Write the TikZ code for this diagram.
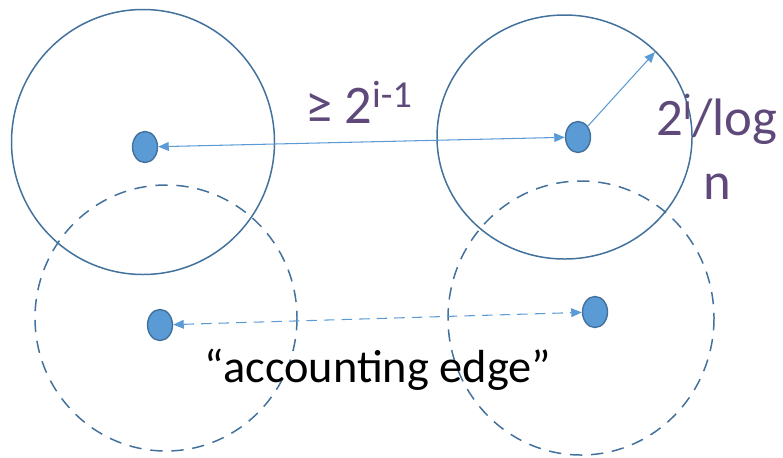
\documentclass[tikz,border=0pt]{standalone}
\usepackage{fontspec}
\setmainfont{Carlito}
\usetikzlibrary{arrows.meta,positioning,shapes.geometric}
\definecolor{ringblue}{HTML}{41719C}
\definecolor{dotblue}{HTML}{5B9BD5}
\definecolor{labelpurple}{HTML}{5F497A}
\tikzset{
  ring/.style={draw=ringblue,line width=0.85pt},
  dashring/.style={ring,dash pattern=on 7pt off 5pt},
  vertex/.style={ellipse,draw=ringblue,fill=dotblue,line width=0.8pt,
    minimum width=0.5cm,minimum height=0.62cm,inner sep=0pt},
  link/.style={draw=dotblue,line width=0.6pt,
    {Triangle[length=6pt,width=5pt]}-{Triangle[length=6pt,width=5pt]}},
}

\begin{document}
\begin{tikzpicture}[x=0.02cm,y=-0.02cm]
  \useasboundingbox (0,0) rectangle (783,457);
  % balls (solid: upper pair, dashed: lower pair)
  \draw[ring] (143,142) ellipse [x radius=131.5,y radius=132.5];
  \draw[ring] (564.5,137) ellipse [x radius=127.5,y radius=122];
  \draw[dashring] (166,318) ellipse [x radius=131,y radius=133];
  \draw[dashring] (581,318) ellipse [x radius=133,y radius=137];
  % centres
  \node[vertex] (u) at (145,147) {};
  \node[vertex] (v) at (578,137) {};
  \node[vertex] (x) at (160,325) {};
  \node[vertex] (y) at (595,312) {};
  \coordinate (rim) at (655,52);
  % distance and radius
  \draw[link] (u) -- (v);
  \draw[draw=dotblue,line width=0.6pt,-{Triangle[length=6pt,width=5pt]}] (v) -- (rim);
  \node[text=labelpurple,font=\fontsize{31}{37}\selectfont,anchor=base] (dist)
    at (359,123) {≥ 2\textsuperscript{i-1}};
  \node[text=labelpurple,font=\fontsize{30}{36.4}\selectfont,align=center,anchor=north] (rad)
    at (717,88) {2\textsuperscript{i}/log\\n};
  % accounting edge
  \draw[link,dash pattern=on 6pt off 4pt] (x) -- (y);
  \node[font=\fontsize{26.4}{31}\selectfont,anchor=base] (acc)
    at (378,382) {“accounting edge”};
\end{tikzpicture}
\end{document}
